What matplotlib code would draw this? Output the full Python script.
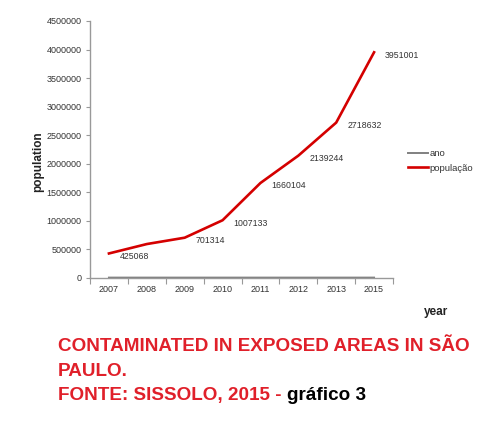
import numpy as np
import matplotlib.pyplot as plt

years = ["2007", "2008", "2009", "2010", "2011", "2012", "2013", "2015"]
ano = [2007, 2008, 2009, 2010, 2011, 2012, 2013, 2015]
populacao = [425068, 590000, 701314, 1007133, 1660104, 2139244, 2718632, 3951001]
labels = ["425068", "", "701314", "1007133", "1660104", "2139244", "2718632", "3951001"]

plt.rcParams['font.family'] = ['Liberation Sans', 'DejaVu Sans']

fig = plt.figure(figsize=(5, 4.37), dpi=100)
ax = fig.add_axes([0.18, 0.3645, 0.606, 0.5875])

x = np.arange(len(years))
ax.plot(x, ano, color="#808080", lw=1.4, label="ano", zorder=2)
ax.plot(x, populacao, color="#d40000", lw=1.9, label="população", zorder=3)

for xi, v, s in zip(x, populacao, labels):
    if s:
        ax.annotate(s, (xi, v), xytext=(11, -3), textcoords="offset pixels",
                    fontsize=6.3, color="#333333", va="center", ha="left")

ax.set_xlim(-0.5, len(years) - 0.5)
ax.set_ylim(0, 4500000)
ax.set_yticks(np.arange(0, 4500001, 500000))
ax.set_yticklabels([str(v) for v in range(0, 4500001, 500000)])
ax.set_xticks(np.arange(-0.5, len(years)), [""] * (len(years) + 1))
ax.set_xticks(x, years, minor=True)
ax.tick_params(axis="x", which="minor", length=0, pad=5)
ax.tick_params(axis="x", which="major", length=4, color="#999999")
ax.tick_params(axis="y", length=3, color="#999999", pad=3)
ax.tick_params(labelsize=6.5, labelcolor="#333333")
for t in ax.get_xticklabels(minor=True):
    t.set_fontsize(6.5)
    t.set_color("#333333")

for side in ["top", "right"]:
    ax.spines[side].set_visible(False)
for side in ["left", "bottom"]:
    ax.spines[side].set_color("#999999")
    ax.spines[side].set_linewidth(1.0)

fig.text(0.076, 0.63, "population", rotation=90, fontsize=8.5, fontweight="bold",
         ha="center", va="center", color="#222222")
fig.text(0.872, 0.286, "year", fontsize=8.5, fontweight="bold",
         ha="center", va="center", color="#222222")

ax.legend(loc="upper left", bbox_to_anchor=(0.816, 0.658), bbox_transform=fig.transFigure,
          frameon=False, fontsize=6.8, handlelength=2.1, handletextpad=0.2,
          borderpad=0, borderaxespad=0, labelspacing=0.55, labelcolor="#333333")

red = "#e0202a"
fig.text(0.116, 0.206, "CONTAMINATED IN EXPOSED AREAS IN SÃO", color=red,
         fontsize=13.6, fontweight="bold", va="center")
fig.text(0.116, 0.151, "PAULO.", color=red, fontsize=13.6, fontweight="bold", va="center")
t = fig.text(0.116, 0.096, "FONTE: SISSOLO, 2015 - ", color=red, fontsize=13.6,
             fontweight="bold", va="center")
ax.annotate("gráfico 3", xy=(1, 0.5), xycoords=t, va="center", ha="left",
            fontsize=13.6, fontweight="bold", color="black")

fig.savefig("out.png", dpi=100)
